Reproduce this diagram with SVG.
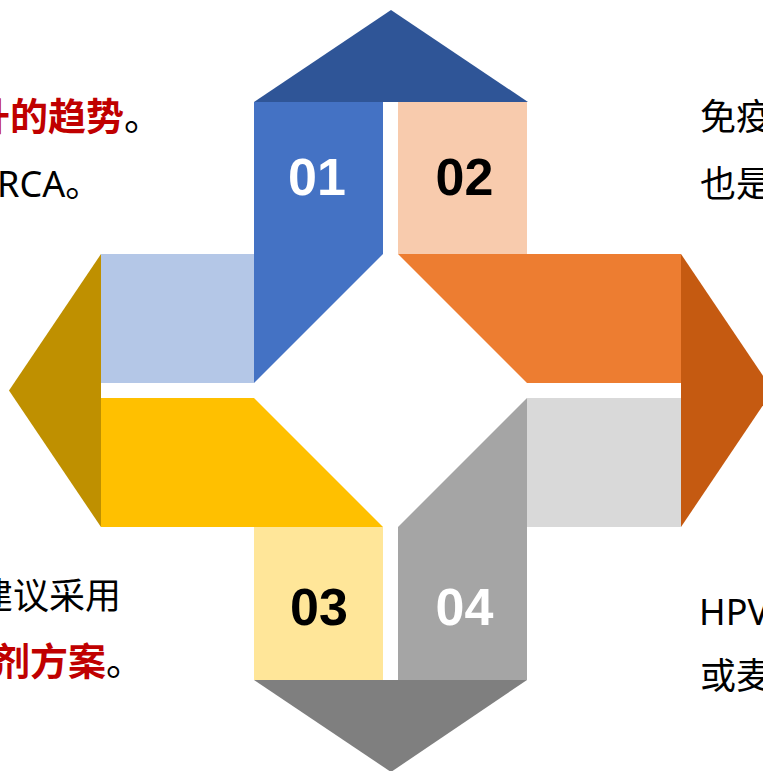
<svg xmlns="http://www.w3.org/2000/svg" width="763" height="771" viewBox="0 0 763 771">
<style>
.num{font-family:"Liberation Sans",Arial,sans-serif;font-weight:bold;font-size:52px;text-anchor:middle}
.w{fill:#FFFFFF}.k{fill:#000000}
.txt{font-family:"Noto Sans","Noto Sans CJK SC",sans-serif;font-size:36px;fill:#000000}
.red{font-family:"Noto Sans CJK SC","Liberation Sans",sans-serif;font-size:38px;font-weight:bold;fill:#C00000}
</style>
<rect width="763" height="771" fill="#FFFFFF"/>
<g id="connectors"/>
<g id="step01">
<polygon points="254,102 391,10 528,102" fill="#2F5597"/>
<polygon points="254,102 383,102 383,254 254,383" fill="#4472C4"/>
<rect x="101" y="254" width="153" height="129" fill="#B4C7E7"/>
<text class="num w" x="317" y="195">01</text>
</g>
<g id="step02">
<rect x="398" y="102" width="129" height="152" fill="#F8CBAD"/>
<polygon points="398,254 681,254 681,383 527,383" fill="#ED7D31"/>
<polygon points="681,254 773,390.5 681,527" fill="#C55A11"/>
<text class="num k" x="464.5" y="195">02</text>
</g>
<g id="step03">
<polygon points="101,398 254,398 383,527 101,527" fill="#FFC000"/>
<polygon points="101,254 9,390.5 101,527" fill="#BF9000"/>
<rect x="254" y="527" width="129" height="153" fill="#FFE699"/>
<text class="num k" x="319" y="625">03</text>
</g>
<g id="step04">
<rect x="527" y="398" width="154" height="129" fill="#D9D9D9"/>
<polygon points="527,398 527,680 398,680 398,527" fill="#A5A5A5"/>
<polygon points="254,680 527,680 391,772" fill="#7F7F7F"/>
<text class="num w" x="464.5" y="625">04</text>
</g>
<g id="text-left-top">
<text class="red" x="162" y="130" text-anchor="end">升的趋势<tspan fill="#000000" font-weight="normal">。</tspan></text>
<text class="txt" x="-3" y="197">RCA。</text>
</g>
<g id="text-right-top">
<text class="txt" x="700" y="130">免疫</text>
<text class="txt" x="700" y="197">也是</text>
</g>
<g id="text-left-bottom">
<text class="txt" x="121" y="609" text-anchor="end">建议采用</text>
<text class="red" x="144" y="675" text-anchor="end">剂方案<tspan fill="#000000" font-weight="normal">。</tspan></text>
</g>
<g id="text-right-bottom">
<text class="txt" x="699" y="625">HPV</text>
<text class="txt" x="700" y="689">或麦</text>
</g>
</svg>
